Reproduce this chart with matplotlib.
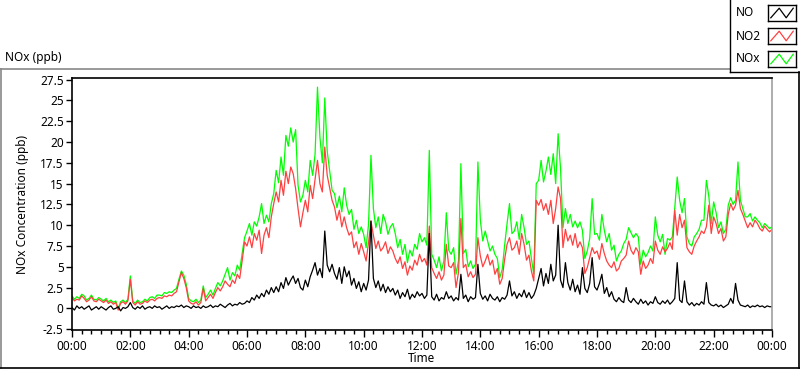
import matplotlib
matplotlib.use("Agg")
import matplotlib.pyplot as plt
from matplotlib.lines import Line2D
import numpy as np

# 5-minute readings, 00:00 .. 24:00 (one row per hour)
no = [
    0.1, -0.2, 0.3, 0.0, 0.2, -0.1, 0.1, 0.3, -0.2, 0.0, 0.2, -0.1,
    0.2, 0.0, -0.2, 0.1, 0.3, -0.1, 0.0, 0.2, -0.3, 0.1, 0.0, 0.2,
    0.7, 0.1, -0.1, 0.2, 0.0, 0.3, -0.1, 0.1, 0.2, 0.0, 0.3, 0.1,
    0.2, -0.1, 0.1, 0.3, 0.0, 0.2, 0.1, 0.3, 0.2, 0.4, 0.1, 0.3,
    0.2, 0.0, 0.3, 0.1, 0.2, 0.0, 0.3, 0.1, 0.2, 0.4, 0.1, 0.3,
    0.2, 0.5, 0.3, 0.1, 0.4, 0.6, 0.3, 0.5, 0.4, 0.7, 0.5, 0.6,
    0.9, 0.7, 1.3, 1.0, 1.6, 1.2, 1.8, 1.4, 2.2, 1.7, 2.5, 1.9,
    2.6, 2.0, 3.1, 2.4, 3.7, 2.8, 3.4, 3.9, 3.0, 3.6, 2.5, 2.2,
    3.4, 2.6, 3.8, 4.6, 5.5, 4.0, 4.8, 3.7, 9.3, 5.2, 4.4, 5.3,
    4.2, 3.5, 4.9, 3.0, 5.0, 3.8, 4.5, 2.8, 3.6, 2.4, 3.2, 2.0,
    3.0, 2.2, 3.4, 10.5, 3.6, 2.5, 3.3, 2.1, 2.9, 1.9, 2.6, 2.0,
    2.4, 1.6, 2.2, 1.2, 1.9, 1.4, 2.3, 1.1, 1.7, 1.3, 2.0, 1.5,
    1.8, 1.2, 1.6, 9.0, 1.4, 1.0, 1.7, 0.9, 1.3, 1.1, 2.0, 1.2,
    1.5, 0.9, 1.3, 1.0, 4.1, 1.2, 1.6, 0.8, 1.4, 1.1, 1.3, 5.3,
    1.8, 1.1, 1.5, 0.9, 1.7, 1.2, 1.0, 1.4, 0.8, 1.3, 1.1, 1.6,
    3.3, 1.5, 2.0, 1.2, 1.8, 1.4, 2.2, 1.3, 1.9, 1.2, 1.6, 2.4,
    3.6, 4.8, 2.7, 4.2, 3.0, 5.3, 3.3, 4.0, 10.0, 3.4, 2.5, 5.5,
    3.1, 2.2, 3.5, 2.0, 2.8, 1.7, 4.9, 2.4, 1.9, 3.0, 6.1, 2.6,
    2.2, 3.0, 4.1, 1.8, 2.5, 1.4, 2.0, 1.1, 0.8, 1.3, 0.9, 0.7,
    2.5, 1.0, 0.7, 1.2, 0.8, 0.5, 1.1, 0.6, 0.9, 0.4, 0.8, 0.6,
    1.4, 0.7, 0.5, 0.9, 0.6, 1.0, 0.5, 0.8, 1.2, 5.5, 1.0, 0.7,
    3.3, 0.8, 0.4, 0.7, 0.3, 0.6, 0.4, 0.8, 0.5, 3.1, 0.7, 0.4,
    0.3, 0.5, 0.2, 0.4, 0.1, 0.3, 0.5, 1.2, 0.6, 3.0, 1.0, 0.4,
    0.3, 0.2, 0.4, 0.1, 0.3, 0.2, 0.4, 0.2, 0.3, 0.1, 0.3, 0.2,
    0.2,
]

no2 = [
    1.3, 0.9, 1.1, 1.0, 1.5, 1.2, 0.8, 1.0, 1.4, 0.9, 0.8, 1.1,
    0.9, 0.7, 1.0, 0.6, 0.8, 0.5, 0.7, -0.2, 0.6, 0.8, 0.5, 0.9,
    3.5, 0.7, 0.4, 0.8, 0.5, 0.6, 0.9, 0.7, 1.0, 1.1, 0.9, 1.2,
    1.3, 1.2, 1.5, 1.4, 1.6, 1.5, 1.8, 2.0, 3.2, 4.3, 3.6, 2.5,
    0.9, 0.6, 0.5, 0.8, 0.4, 0.7, 2.4, 0.9, 1.3, 1.7, 1.2, 1.9,
    2.5, 2.1, 2.6, 3.3, 2.9, 2.6, 3.4, 3.0, 4.1, 3.6, 5.7, 8.0,
    7.5, 8.6, 7.3, 9.0, 8.2, 9.4, 6.6, 8.8, 9.7, 8.5, 11.0, 12.6,
    14.0, 12.8, 15.4, 13.6, 16.5, 15.0, 17.0, 16.2, 14.4, 12.0, 9.8, 11.5,
    13.0, 11.6, 14.8, 13.2, 15.5, 17.8, 15.0, 14.0, 19.4, 16.0, 14.5, 13.0,
    12.2, 10.6, 11.8, 9.8, 11.0, 9.7, 8.8, 9.2, 7.3, 8.0, 6.5, 7.8,
    6.8, 5.7, 7.9, 10.5, 8.8, 7.2, 8.1, 6.9, 7.3, 8.0, 6.6, 7.4,
    6.9, 6.0, 5.4, 6.2, 4.8, 5.6, 4.0, 5.1, 4.6, 5.8, 5.2, 6.5,
    5.6, 6.0, 5.2, 9.9, 4.9, 4.2, 3.6, 4.4, 3.4, 4.0, 7.7, 5.1,
    4.9, 5.5, 2.5, 4.3, 10.8, 4.9, 5.3, 3.8, 4.4, 3.7, 4.1, 8.5,
    6.3, 5.0, 5.7, 6.5, 5.2, 5.8, 4.1, 4.8, 2.9, 3.6, 5.9, 7.7,
    8.5, 7.0, 7.3, 8.1, 6.5, 9.0, 7.7, 5.8, 6.4, 4.5, 3.3, 13.0,
    12.4, 13.1, 11.8, 12.6, 11.3, 13.0, 10.2, 12.0, 14.6, 13.2, 7.3, 9.5,
    8.1, 8.8, 7.6, 9.0, 7.3, 8.0, 7.3, 4.2, 4.9, 6.1, 7.3, 6.6,
    6.9, 5.9, 7.8, 6.6, 5.7, 5.2, 4.9, 5.6, 4.5, 4.8, 5.7, 6.0,
    6.4, 8.1, 7.0, 6.5, 7.3, 6.8, 4.1, 5.7, 4.8, 5.2, 6.0, 5.4,
    8.1, 7.0, 6.5, 7.4, 6.8, 7.2, 7.9, 7.1, 11.8, 8.8, 11.3, 9.7,
    10.6, 7.3, 6.8, 6.5, 7.5, 8.1, 8.6, 9.3, 9.0, 9.8, 12.4, 9.0,
    11.0, 10.2, 9.0, 9.6, 8.1, 8.6, 11.3, 12.6, 11.8, 12.4, 14.2, 12.0,
    11.3, 10.5, 9.7, 10.3, 9.8, 10.6, 10.2, 9.6, 9.3, 9.9, 9.5, 9.2,
    9.5,
]

nox = [
    1.5, 1.1, 1.4, 1.2, 1.7, 1.5, 1.0, 1.2, 1.6, 1.1, 1.0, 1.3,
    1.1, 0.9, 1.2, 0.8, 1.0, 0.7, 0.9, 0.0, 0.8, 1.0, 0.7, 1.1,
    3.9, 0.9, 0.6, 1.0, 0.7, 0.8, 1.1, 0.9, 1.3, 1.4, 1.2, 1.6,
    1.6, 1.5, 1.9, 1.8, 2.0, 1.9, 2.2, 2.4, 3.5, 4.5, 4.0, 2.9,
    1.2, 0.9, 0.8, 1.1, 0.7, 1.0, 2.7, 1.3, 1.7, 2.2, 1.6, 2.4,
    3.1, 2.7, 3.3, 4.1, 4.9, 3.4, 4.3, 3.9, 5.2, 4.6, 6.6, 8.5,
    9.3, 10.2, 8.8, 10.4, 9.9, 11.0, 12.6, 10.2, 11.2, 10.4, 12.6, 13.8,
    16.6, 15.1, 18.2, 16.0, 20.8, 19.5, 21.7, 20.0, 21.5, 14.8, 12.8, 13.6,
    15.4, 14.0, 17.8, 16.0, 18.5, 26.6, 20.6, 17.5, 25.3, 18.9, 16.6, 14.2,
    13.8, 12.1, 13.5, 11.6, 14.5, 12.4, 11.3, 11.9, 9.5, 10.6, 9.0, 9.8,
    8.9, 7.3, 10.1, 18.4, 12.0, 9.7, 11.0, 9.0, 11.3, 10.4, 8.9, 9.8,
    10.2, 9.0, 7.3, 8.3, 6.5, 7.7, 5.5, 7.0, 6.3, 7.7, 7.1, 9.0,
    8.0, 8.5, 7.6, 19.0, 6.5, 5.8, 4.9, 6.2, 4.5, 5.7, 11.5, 7.0,
    6.5, 7.3, 4.1, 5.7, 17.4, 6.6, 7.1, 5.0, 5.7, 4.8, 5.3, 17.6,
    10.6, 8.1, 9.3, 8.1, 6.9, 7.5, 6.5, 6.0, 3.7, 4.7, 7.6, 10.2,
    12.6, 9.0, 9.3, 10.4, 8.3, 11.3, 9.7, 7.7, 8.1, 6.0, 4.1, 15.0,
    15.4, 17.8, 15.2, 16.5, 18.2, 16.1, 18.6, 15.0, 21.0, 16.8, 9.7, 12.0,
    10.2, 11.3, 9.8, 10.5, 9.7, 10.4, 9.4, 6.0, 6.9, 8.4, 13.2, 8.9,
    9.0, 8.2, 11.3, 9.4, 8.0, 9.0, 7.0, 7.6, 5.7, 6.5, 6.9, 7.8,
    8.3, 9.7, 9.1, 8.5, 9.0, 8.6, 5.3, 7.0, 6.2, 6.7, 7.5, 6.9,
    11.0, 8.8, 8.0, 8.9, 6.5, 8.4, 8.2, 8.6, 12.1, 15.8, 13.0, 11.5,
    13.2, 8.6, 7.8, 7.5, 8.6, 9.0, 9.5, 10.6, 10.6, 15.4, 13.5, 10.2,
    12.8, 11.5, 9.7, 10.4, 9.0, 9.5, 12.4, 13.3, 12.5, 13.0, 17.6, 13.0,
    12.0, 11.0, 11.0, 11.4, 10.5, 11.0, 10.6, 10.3, 9.7, 10.2, 9.9, 9.6,
    9.8,
]

series_names = ["NO", "NO2", "NOx"]
colors = {"NO": "#000000", "NO2": "#ff4040", "NOx": "#00ff00"}
xtick_labels = ["00:00", "02:00", "04:00", "06:00", "08:00", "10:00", "12:00",
                "14:00", "16:00", "18:00", "20:00", "22:00", "00:00"]
yticks = [-2.5, 0, 2.5, 5, 7.5, 10, 12.5, 15, 17.5, 20, 22.5, 25, 27.5]
ytick_labels = ["-2.5", "0", "2.5", "5", "7.5", "10", "12.5", "15",
                "17.5", "20", "22.5", "25", "27.5"]

hours = np.arange(len(no)) * 5 / 60.0

plt.rcParams['font.family'] = ['Noto Sans', 'DejaVu Sans']
W, H = 800, 369
fig = plt.figure(figsize=(W / 100, H / 100), dpi=100)
fig.patch.set_facecolor("white")


def fx(x):
    return x / W


def fy(y):
    return 1 - y / H


ax = fig.add_axes([fx(72), fy(330), fx(772) - fx(72), fy(78) - fy(330)])
ax.plot(hours, nox, color=colors["NOx"], lw=0.9)
ax.plot(hours, no2, color=colors["NO2"], lw=0.9)
ax.plot(hours, no, color=colors["NO"], lw=0.9)

ax.set_xlim(0, 24)
ax.set_ylim(-2.6, 27.7)
ax.set_xticks(np.arange(0, 25, 2))
ax.set_xticklabels(xtick_labels)
ax.set_xticks(np.arange(0, 24.01, 1 / 3), minor=True)
ax.set_yticks(yticks)
ax.set_yticklabels(ytick_labels)
ax.tick_params(axis="both", labelsize=8.5, colors="black", direction="out")
ax.tick_params(axis="x", which="major", length=5, width=1, pad=2)
ax.tick_params(axis="x", which="minor", length=3, width=1)
ax.tick_params(axis="y", length=4, width=1, pad=2)
for s in ["left", "top", "bottom"]:
    ax.spines[s].set_color("black")
    ax.spines[s].set_linewidth(1.2)
ax.spines["right"].set_color("#a0a0a0")
ax.spines["right"].set_linewidth(1.2)

fig.text(fx(422), fy(359), "Time", fontsize=8.5, ha="center", va="center")
ax.set_ylabel("NOx Concentration (ppb)", fontsize=8.5, labelpad=8)
fig.text(fx(5), fy(58), "NOx (ppb)", fontsize=8.5, va="center", ha="left")

# panel frame
fig.add_artist(Line2D([fx(0), fx(730)], [fy(69), fy(69)], color="#888888", lw=1.2))
fig.add_artist(Line2D([fx(0.5), fx(0.5)], [fy(69), fy(368)], color="#888888", lw=1.2))
fig.add_artist(Line2D([fx(0), fx(800)], [fy(367.5), fy(367.5)], color="black", lw=1.2))
fig.add_artist(Line2D([fx(799), fx(799)], [fy(72), fy(368)], color="black", lw=1.2))

# legend box
fig.add_artist(Line2D([fx(730), fx(730)], [fy(0), fy(72)], color="black", lw=1))
fig.add_artist(Line2D([fx(730), fx(800)], [fy(71.5), fy(71.5)], color="black", lw=1))
for i, name in enumerate(series_names):
    yc = 13 + i * 23
    fig.text(fx(736), fy(yc), name, fontsize=8.5, va="center", ha="left")
    sw = fig.add_axes([fx(768), fy(yc + 8), fx(796) - fx(768), fy(yc - 8) - fy(yc + 8)])
    sw.plot([0.1, 0.4, 0.65, 0.9], [0.2, 0.8, 0.2, 0.8], color=colors[name], lw=0.9)
    sw.set_xlim(0, 1)
    sw.set_ylim(0, 1)
    sw.set_xticks([])
    sw.set_yticks([])
    for s in sw.spines.values():
        s.set_linewidth(1)
        s.set_color("black")

fig.savefig("out.png", dpi=100)
